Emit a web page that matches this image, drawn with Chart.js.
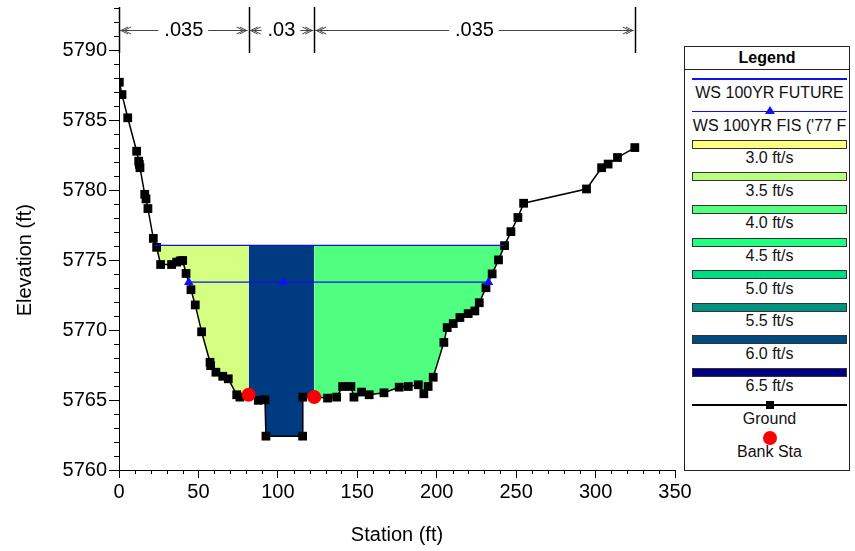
<!DOCTYPE html>
<html>
<head>
<meta charset="utf-8">
<script src="https://cdn.jsdelivr.net/npm/chart.js@4.4.0/dist/chart.umd.min.js"></script>
<style>
  body { margin: 0; background: #fff; font-family: "Liberation Sans", Arial, sans-serif; }
  #wrap { position: relative; width: 855px; height: 551px; }
  #legend { position: absolute; left: 684px; top: 46px; width: 164px; height: 423px;
            border: 1px solid #222; background: #fff; overflow: hidden; }
  #legend .title { position: absolute; left: 0; top: 0; width: 100%; height: 22px;
                   border-bottom: 1px solid #222; text-align: center; font-weight: bold;
                   font-size: 16px; line-height: 22px; }
  #legend .txt { position: absolute; left: 7px; width: 155px; height: 18px; line-height: 18px;
                 font-size: 16px; text-align: center; white-space: nowrap; overflow: hidden; color: #111; }
  #legend .sym { position: absolute; }
</style>
</head>
<body>
<div id="wrap">
  <canvas id="myChart" width="855" height="551"></canvas>
  <div id="legend"><div class="title">Legend</div></div>
</div>
<script>
// ground profile
var groundSta = [0.2, 1.9, 5.5, 11.1, 12.4, 12.8, 13.2, 16.2, 17.0, 18.2, 21.6, 23.7, 26.2, 33.1, 36.3, 38.5, 40.1,
  42.2, 45.3, 48.0, 52.0, 57.3, 57.7, 61.0, 65.3, 68.8, 74.1, 76.1, 81.6, 87.7, 91.9, 92.5, 115.6, 115.7,
  122.9, 131.3, 137.0, 140.8, 146.0, 147.9, 152.7, 157.5, 166.8, 176.4, 182.1, 188.4, 191.9, 194.6, 197.8,
  204.5, 206.6, 210.4, 214.6, 219.8, 224.0, 226.8, 231.0, 234.9, 238.9, 242.7, 246.7, 251.1, 254.7,
  294.3, 303.8, 307.9, 313.8, 324.7];
var groundElev = [5787.72, 5786.84, 5785.18, 5782.79, 5782.08, 5781.85, 5781.61, 5779.71, 5779.38, 5778.69,
  5776.56, 5775.92, 5774.69, 5774.69, 5774.86, 5774.95, 5774.98, 5774.05, 5772.89, 5771.80, 5769.88,
  5767.70, 5767.46, 5766.99, 5766.70, 5766.52, 5765.38, 5765.21, 5765.38, 5764.98, 5765.02, 5762.42,
  5762.42, 5765.21, 5765.21, 5765.14, 5765.21, 5765.97, 5765.97, 5765.21, 5765.57, 5765.38, 5765.52,
  5765.92, 5765.97, 5766.09, 5765.45, 5765.97, 5766.63, 5769.12, 5770.18, 5770.47, 5770.90, 5771.18,
  5771.37, 5771.96, 5773.03, 5774.02, 5775.02, 5776.04, 5777.04, 5778.05, 5779.07, 5780.09, 5781.61,
  5781.87, 5782.34, 5783.05];

// bank stations
var bankSta = [81.6, 122.9];
var bankElev = [5765.38, 5765.21];

// water surfaces
var wsFutureElev = 5776.06;
var wsFutureSta = [22.9, 242.7];
var wsFisElev = 5773.43;
var wsFisSta = [43.9, 103.5, 232.6];

// velocity distribution fill (between breaks)
var fillBreaks = [22.9, 81.6, 122.9, 242.7];
var fillColors = ['#D4FF80', '#003A80', '#50FF80'];

// manning's n
var nBreaks = [0, 81.6, 122.9, 324.7];
var nValues = ['.035', '.03', '.035'];

// legend velocity classes
var velLabels = ['3.0 ft/s', '3.5 ft/s', '4.0 ft/s', '4.5 ft/s', '5.0 ft/s', '5.5 ft/s', '6.0 ft/s', '6.5 ft/s'];
var velColors = ['#FFFF80', '#B8FF80', '#55FF80', '#22FF80', '#00DC80', '#00927F', '#004A80', '#000080'];

var yTicks = [5760, 5765, 5770, 5775, 5780, 5785, 5790];
var xTicks = [0, 50, 100, 150, 200, 250, 300, 350];

var FONT = '"Liberation Sans", Arial, sans-serif';

function pts(xs, ys) {
  return xs.map(function (x, i) { return {x: x, y: Array.isArray(ys) ? ys[i] : ys}; });
}

var datasets = [
  { label: 'Bank Sta', data: pts(bankSta, bankElev), showLine: false,
    pointStyle: 'circle', pointRadius: 7, pointBackgroundColor: '#FF0000', pointBorderColor: '#FF0000', pointBorderWidth: 0 },
  { label: "WS 100YR FIS ('77 F", data: pts(wsFisSta, wsFisElev), borderColor: '#1010F0', borderWidth: 1.3,
    pointStyle: 'triangle', pointRadius: 5.5, pointBackgroundColor: '#1010F0', pointBorderColor: '#1010F0', pointBorderWidth: 0 },
  { label: 'WS 100YR FUTURE', data: pts(wsFutureSta, wsFutureElev), borderColor: '#1010F0', borderWidth: 1.3, pointRadius: 0 },
  { label: 'Ground', data: pts(groundSta, groundElev), borderColor: '#000', borderWidth: 1.5,
    pointStyle: 'rect', pointRadius: 6.2, pointBackgroundColor: '#000', pointBorderColor: '#000', pointBorderWidth: 0 }
];
var groundIndex = 3;
for (var i = 0; i < fillColors.length; i++) {
  datasets.push({ label: 'vel' + i, data: pts([fillBreaks[i], fillBreaks[i + 1]], wsFutureElev),
    borderWidth: 0, borderColor: 'rgba(0,0,0,0)', pointRadius: 0, fill: groundIndex, backgroundColor: fillColors[i] });
}

// minor ticks, axis titles, n-value annotation
var extras = {
  id: 'extras',
  afterDraw: function (chart) {
    var ctx = chart.ctx, xs = chart.scales.x, ys = chart.scales.y, a = chart.chartArea;
    ctx.save();
    ctx.strokeStyle = '#000';
    ctx.lineWidth = 1;
    ctx.beginPath();
    for (var v = ys.min; v <= ys.max; v++) {
      if (v % 5 === 0) continue;
      var py = Math.round(ys.getPixelForValue(v)) + 0.5;
      ctx.moveTo(a.left - 5, py); ctx.lineTo(a.left, py);
    }
    for (var s = xs.min; s <= xs.max; s += 10) {
      if (s % 50 === 0) continue;
      var px = Math.round(xs.getPixelForValue(s)) + 0.5;
      ctx.moveTo(px, a.bottom); ctx.lineTo(px, a.bottom + 4);
    }
    ctx.stroke();

    // axis titles
    ctx.fillStyle = '#000';
    ctx.font = '20px ' + FONT;
    ctx.textAlign = 'center';
    ctx.textBaseline = 'middle';
    ctx.fillText('Station (ft)', (a.left + a.right) / 2, 535);
    ctx.save();
    ctx.translate(25, ys.getPixelForValue((yTicks[0] + yTicks[yTicks.length - 1]) / 2));
    ctx.rotate(-Math.PI / 2);
    ctx.fillText('Elevation (ft)', 0, 0);
    ctx.restore();

    // n values
    var top = a.top, ay = top + 23;
    ctx.lineWidth = 1.5;
    ctx.beginPath();
    nBreaks.forEach(function (b) {
      var bx = Math.round(xs.getPixelForValue(b)) + 0.5;
      ctx.moveTo(bx, top); ctx.lineTo(bx, top + 46);
    });
    ctx.stroke();
    ctx.lineWidth = 1;
    ctx.strokeStyle = '#444';
    for (var k = 0; k < nValues.length; k++) {
      var x0 = xs.getPixelForValue(nBreaks[k]) + 1, x1 = xs.getPixelForValue(nBreaks[k + 1]) - 1;
      var mid = (x0 + x1) / 2, w = ctx.measureText(nValues[k]).width;
      ctx.fillText(nValues[k], mid, ay);
      ctx.beginPath();
      ctx.moveTo(x0, ay + 0.5); ctx.lineTo(mid - w / 2 - 6, ay + 0.5);
      ctx.moveTo(mid + w / 2 + 5, ay + 0.5); ctx.lineTo(x1, ay + 0.5);
      [0, 3].forEach(function (o) {
        ctx.moveTo(x0 + 8 + o, ay - 3); ctx.lineTo(x0 + 1 + o, ay + 0.5); ctx.lineTo(x0 + 8 + o, ay + 4);
        ctx.moveTo(x1 - 8 - o, ay - 3); ctx.lineTo(x1 - 1 - o, ay + 0.5); ctx.lineTo(x1 - 8 - o, ay + 4);
      });
      ctx.stroke();
    }
    ctx.restore();
  }
};

var ctx = document.getElementById('myChart').getContext('2d');
var chart = new Chart(ctx, {
  type: 'line',
  data: { datasets: datasets },
  plugins: [extras],
  options: {
    responsive: false,
    animation: false,
    events: [],
    layout: { padding: { left: 0, top: 4, right: 180, bottom: 0 } },
    elements: { line: { tension: 0 } },
    plugins: { legend: { display: false }, tooltip: { enabled: false } },
    scales: {
      x: {
        type: 'linear', min: 0, max: 350,
        afterBuildTicks: function (s) { s.ticks = xTicks.map(function (v) { return {value: v}; }); },
        afterFit: function (s) { s.height = 81; s.paddingLeft = 0; s.paddingRight = 0; },
        grid: { drawOnChartArea: false, tickLength: 8, tickColor: '#000' },
        border: { color: '#000', width: 1 },
        ticks: { color: '#000', padding: 2, maxRotation: 0, font: { family: FONT, size: 20 },
                 callback: function (v) { return String(v); } }
      },
      y: {
        type: 'linear', min: 5760, max: 5793.1,
        afterBuildTicks: function (s) { s.ticks = yTicks.map(function (v) { return {value: v}; }); },
        afterFit: function (s) { s.width = 119; s.paddingTop = 0; s.paddingBottom = 0; },
        grid: { drawOnChartArea: false, tickLength: 10, tickColor: '#000' },
        border: { color: '#000', width: 1 },
        ticks: { color: '#000', padding: 2, font: { family: FONT, size: 20 },
                 callback: function (v) { return String(v); } }
      }
    }
  }
});

// legend box
var legend = document.getElementById('legend');
var entries = [
  {kind: 'line', color: '#1010F0', text: 'WS 100YR FUTURE'},
  {kind: 'line', color: '#1010F0', marker: 'tri', text: "WS 100YR FIS ('77 F"}
];
velLabels.forEach(function (l, i) { entries.push({kind: 'bar', color: velColors[i], text: l}); });
entries.push({kind: 'line', color: '#000', marker: 'sq', text: 'Ground'});
entries.push({kind: 'dot', color: '#FF0000', text: 'Bank Sta'});

entries.forEach(function (e, i) {
  var cy = 32 + 32.6 * i;
  var sym = document.createElement('div');
  sym.className = 'sym';
  if (e.kind === 'bar') {
    sym.style.cssText = 'left:7px;width:153px;top:' + (cy - 4.5) + 'px;height:7px;border:1px solid #333;background:' + e.color;
    legend.appendChild(sym);
  } else if (e.kind === 'line') {
    sym.style.cssText = 'left:7px;width:155px;top:' + (cy - 0.75) + 'px;height:1.5px;background:' + e.color;
    legend.appendChild(sym);
    if (e.marker === 'tri') {
      var t = document.createElement('div');
      t.className = 'sym';
      t.style.cssText = 'left:80px;top:' + (cy - 6) + 'px;width:0;height:0;border-left:5px solid transparent;border-right:5px solid transparent;border-bottom:8px solid ' + e.color;
      legend.appendChild(t);
    } else if (e.marker === 'sq') {
      var q = document.createElement('div');
      q.className = 'sym';
      q.style.cssText = 'left:81px;top:' + (cy - 4) + 'px;width:8px;height:8px;background:' + e.color;
      legend.appendChild(q);
    }
  } else {
    sym.style.cssText = 'left:78px;top:' + (cy - 7) + 'px;width:14px;height:14px;border-radius:50%;background:' + e.color;
    legend.appendChild(sym);
  }
  var tx = document.createElement('div');
  tx.className = 'txt';
  tx.style.top = (cy + 14 - 9) + 'px';
  tx.textContent = e.text;
  legend.appendChild(tx);
});
</script>
</body>
</html>
